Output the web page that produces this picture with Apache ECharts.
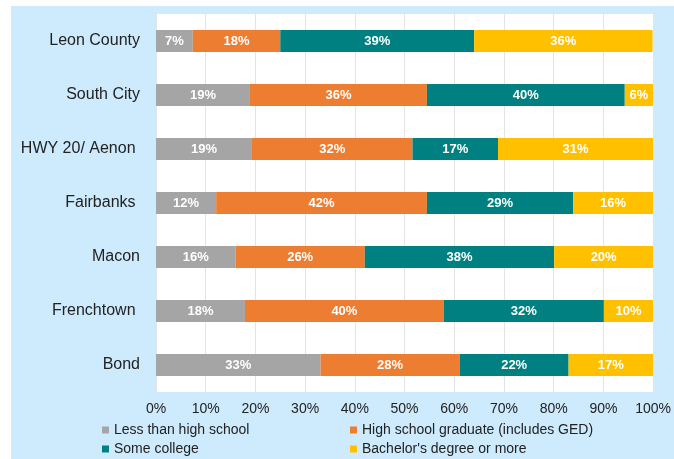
<!DOCTYPE html>
<html>
<head>
<meta charset="utf-8">
<script src="https://cdn.jsdelivr.net/npm/echarts@6/dist/echarts.min.js"></script>
<style>
html,body{margin:0;padding:0;background:#fff;}
#bg{position:absolute;left:11px;top:6px;width:663px;height:453px;background:#cdebfd;}
#chart{position:absolute;left:0;top:0;width:674px;height:459px;}
</style>
</head>
<body>
<div id="bg"></div>
<div id="chart"></div>
<script>
// areas, top to bottom
var areas = ['Leon County', 'South City', 'HWY 20/ Aenon ', 'Fairbanks ', 'Macon', 'Frenchtown ', 'Bond'];
// share of adults by education level (%)
var lessThanHS = [7.4, 18.9, 19.3, 12.1, 16.0, 17.9, 33.1];
var hsGraduate = [17.6, 35.6, 32.3, 42.4, 26.0, 40.0, 28.0];
var someCollege = [39.0, 39.8, 17.2, 29.4, 38.1, 32.2, 21.9];
var bachelors = [35.9, 5.7, 31.2, 16.1, 19.9, 9.9, 17.0];

var font = 'Liberation Sans, Arial, sans-serif';

function bar(name, data, color) {
    return {
        name: name,
        type: 'bar',
        stack: 'total',
        barWidth: 22,
        data: data,
        itemStyle: {color: color},
        label: {
            show: true,
            position: 'inside',
            color: '#fff',
            fontWeight: 'bold',
            fontSize: 13,
            fontFamily: font,
            formatter: function (p) { return Math.round(p.value) + '%'; }
        }
    };
}

// one legend per item so the two columns line up like the original
function legendItem(name, left, top) {
    return {
        data: [name], left: left, top: top, padding: 0,
        itemWidth: 7, itemHeight: 7, icon: 'rect', itemGap: 4,
        textStyle: {fontSize: 14, color: '#222', fontFamily: font}
    };
}

var myChart = echarts.init(document.getElementById('chart'));
myChart.setOption({
    animation: false,
    grid: {
        left: 156, right: 18, top: 14, bottom: 67,
        show: true, backgroundColor: '#fff', borderWidth: 0
    },
    legend: [
        legendItem('Less than high school', 102, 423),
        legendItem('High school graduate (includes GED)', 350, 423),
        legendItem('Some college', 102, 442),
        legendItem("Bachelor's degree or more", 350, 442)
    ],
    xAxis: {
        type: 'value', min: 0, max: 100, interval: 10,
        axisLine: {show: false}, axisTick: {show: false},
        splitLine: {lineStyle: {color: '#e4e4e4'}},
        axisLabel: {formatter: '{value}%', fontSize: 14, color: '#222', margin: 10, fontFamily: font}
    },
    yAxis: {
        type: 'category', data: areas, inverse: true,
        axisLine: {show: false}, axisTick: {show: false},
        axisLabel: {fontSize: 16, color: '#222', margin: 16, fontFamily: font}
    },
    series: [
        bar('Less than high school', lessThanHS, '#a5a5a5'),
        bar('High school graduate (includes GED)', hsGraduate, '#ed7d31'),
        bar('Some college', someCollege, '#008080'),
        bar("Bachelor's degree or more", bachelors, '#ffc000')
    ]
});
</script>
</body>
</html>
